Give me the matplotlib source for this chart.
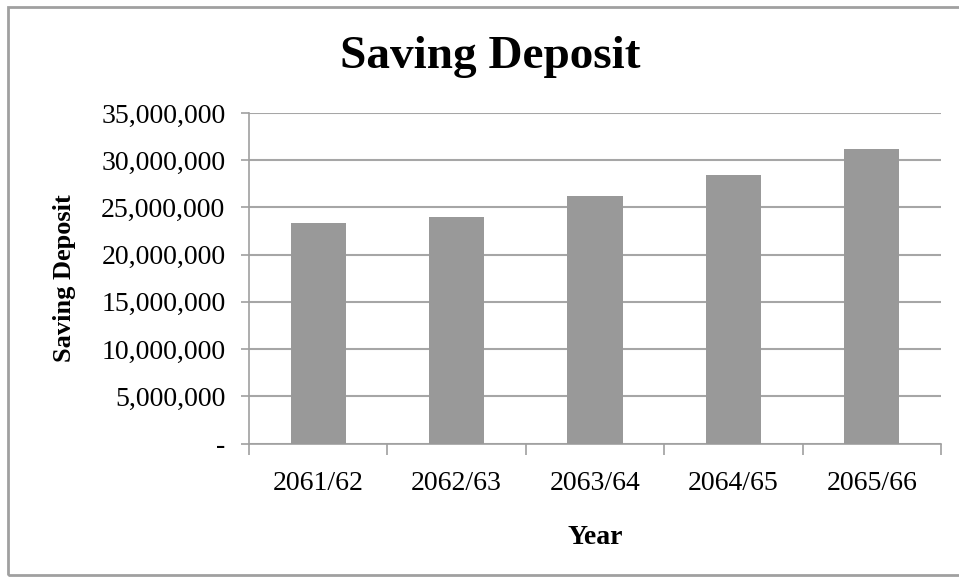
import matplotlib
matplotlib.use("Agg")
import matplotlib.pyplot as plt
from matplotlib.patches import Rectangle
import numpy as np

years = ["2061/62", "2062/63", "2063/64", "2064/65", "2065/66"]
deposits = [23400000, 24000000, 26250000, 28480000, 31230000]
ytick_vals = [0, 5000000, 10000000, 15000000, 20000000, 25000000, 30000000, 35000000]
ytick_labels = ["-", "5,000,000", "10,000,000", "15,000,000", "20,000,000",
                "25,000,000", "30,000,000", "35,000,000"]

plt.rcParams['font.family'] = ['Liberation Serif', 'DejaVu Serif']

fig = plt.figure(figsize=(9.59, 5.79), dpi=100)
fig.patch.set_facecolor('white')
# outer chart border
fig.add_artist(Rectangle((8/959, 4/579), 1.2, 1-11/579, transform=fig.transFigure,
                         fill=False, edgecolor='#a0a0a0', linewidth=2))

ax = fig.add_axes([249/959, 1-443.5/579, (941-249)/959, (443.5-113)/579])
x = np.arange(len(years))
ax.bar(x, deposits, width=0.4, color='#999999', zorder=3)
ax.set_xlim(-0.5, len(years)-0.5)
ax.set_ylim(0, 35000000)
ax.set_yticks(ytick_vals)
ax.set_yticklabels(ytick_labels, fontsize=20)
ax.set_xticks(x)
ax.set_xticklabels(years, fontsize=20)
ax.set_xticks(np.arange(len(years)+1)-0.5, minor=True)
ax.tick_params(axis='x', which='major', length=0, pad=20)
ax.tick_params(axis='x', which='minor', length=8, color='#a0a0a0', width=1.2)
ax.tick_params(axis='y', length=6, color='#a0a0a0', width=1.2, pad=11)
ax.grid(axis='y', color='#a6a6a6', linewidth=1.5, zorder=0)
for s in ['top', 'right']:
    ax.spines[s].set_visible(False)
for s in ['left', 'bottom']:
    ax.spines[s].set_color('#a0a0a0')
    ax.spines[s].set_linewidth(1.2)

ax.set_ylabel("Saving Deposit", fontsize=19, fontweight='bold', labelpad=18)
ax.set_xlabel("Year", fontsize=20, fontweight='bold', labelpad=21)
fig.text(490/959, 1-57/579, "Saving Deposit", fontsize=34, fontweight='bold',
         ha='center', va='center')

fig.savefig("out.png", dpi=100)
